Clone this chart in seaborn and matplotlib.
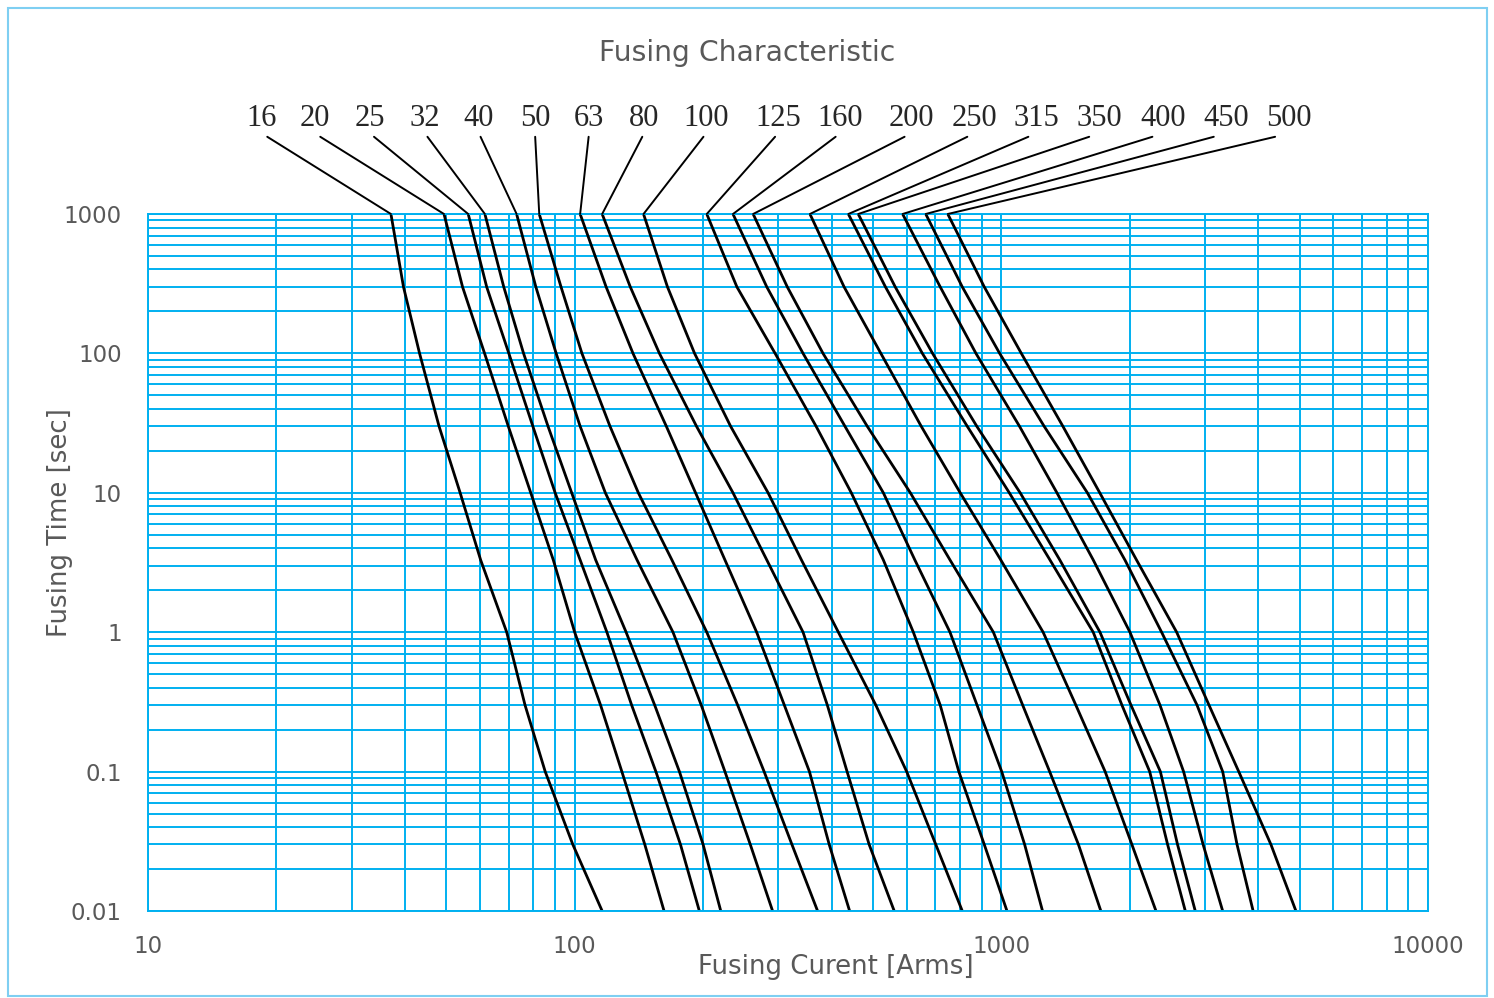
import matplotlib
matplotlib.use("Agg")
import pandas as pd
import matplotlib.pyplot as plt
import seaborn as sns
from matplotlib.patches import Rectangle
from matplotlib.ticker import LogLocator, NullFormatter, FixedLocator

# fusing time points (sec) shared by every curve
times = [1000, 300, 100, 30, 10, 3.3, 1, 0.3, 0.1, 0.03, 0.01]

ratings = ['16', '20', '25', '32', '40', '50', '63', '80', '100', '125',
           '160', '200', '250', '315', '350', '400', '450', '500']

# fusing current [Arms] at each time point
i16 = [37.1, 39.7, 43.3, 48.1, 53.9, 60.2, 69.3, 76.5, 85.3, 99.0, 116]
i20 = [49.4, 54.6, 61.5, 69.9, 78.9, 89.1, 100, 115, 129, 146, 162]
i25 = [56.3, 62.2, 70.1, 79.8, 90.0, 103, 119, 136, 155, 177, 196]
i32 = [61.6, 68.2, 75.9, 86.6, 98.4, 112, 132, 154, 176, 200, 220]
i40 = [73.1, 81.1, 90.5, 103, 118, 140, 170, 198, 225, 258, 291]
i50 = [82.6, 92.9, 104, 121, 141, 169, 204, 241, 278, 323, 371]
i63 = [103, 118.5, 137, 164, 192, 225, 267, 310, 355, 395, 441]
i80 = [116, 135, 158, 193, 235, 282, 343, 391, 435, 490, 561]
i100 = [145, 165, 191, 232, 284, 340, 415, 508, 600, 702, 810]
i125 = [204, 240, 295, 368, 445, 529, 622, 719, 795, 912, 1031]
i160 = [235, 282, 343, 430, 529, 627, 758, 877, 1002, 1134, 1249]
i200 = [262, 315, 382, 485, 612, 758, 958, 1122, 1298, 1516, 1711]
i250 = [356, 428, 522, 649, 801, 997, 1253, 1495, 1751, 2023, 2304]
i315 = [438, 535, 653, 832, 1044, 1300, 1642, 1917, 2227, 2453, 2699]
i350 = [462, 564, 690, 876, 1107, 1371, 1703, 2013, 2359, 2588, 2848]
i400 = [587, 719, 872, 1103, 1350, 1642, 2002, 2354, 2674, 2971, 3302]
i450 = [665, 810, 991, 1260, 1591, 1948, 2375, 2875, 3302, 3568, 3892]
i500 = [749, 912, 1114, 1394, 1701, 2074, 2576, 3067, 3601, 4284, 4903]

currents = [i16, i20, i25, i32, i40, i50, i63, i80, i100, i125,
            i160, i200, i250, i315, i350, i400, i450, i500]

# horizontal position of the rating labels above the plot (figure pixels)
label_px = [262, 315, 370, 425, 479, 535, 589, 644, 706, 778,
            840, 911, 974, 1036, 1099, 1163, 1226, 1289]

W, H = 1494, 998
grid_blue = '#00B0F0'
text_gray = '#595959'

rows = []
for r, cur in zip(ratings, currents):
    for c, t in zip(cur, times):
        rows.append({'rating': r, 'current': c, 'time': t})
df = pd.DataFrame(rows)

sns.set_style('white')
plt.rcParams['font.family'] = ['DejaVu Sans']

fig = plt.figure(figsize=(W / 100, H / 100), dpi=100)
ax = fig.add_axes([148 / W, 87 / H, 1280 / W, 697 / H])

sns.lineplot(data=df, x='current', y='time', hue='rating', palette={r: 'black' for r in ratings},
             sort=False, estimator=None, legend=False, linewidth=2.0, ax=ax)

ax.set_xscale('log')
ax.set_yscale('log')
ax.set_xlim(10, 10000)
ax.set_ylim(0.01, 1000)

ax.xaxis.set_major_locator(FixedLocator([10, 100, 1000, 10000]))
ax.yaxis.set_major_locator(FixedLocator([0.01, 0.1, 1, 10, 100, 1000]))
ax.set_xticklabels(['10', '100', '1000', '10000'])
ax.set_yticklabels(['0.01', '0.1', '1', '10', '100', '1000'])
for axis in (ax.xaxis, ax.yaxis):
    axis.set_minor_locator(LogLocator(base=10, subs=range(2, 10), numticks=50))
    axis.set_minor_formatter(NullFormatter())

ax.set_axisbelow(True)
ax.grid(True, which='both', color=grid_blue, linewidth=1.4)
ax.tick_params(which='both', length=0, labelsize=16.5, labelcolor=text_gray)
ax.tick_params(axis='y', pad=19)
ax.tick_params(axis='x', pad=17)
for s in ax.spines.values():
    s.set_color(grid_blue)
    s.set_linewidth(1.4)
ax.set_xlabel('')
ax.set_ylabel('')

# rating labels with leader lines to the top of each curve
for r, cur, px in zip(ratings, currents, label_px):
    ax.annotate(r, xy=(cur[0], times[0]), xycoords='data',
                xytext=(px / W, 1 - 119 / H), textcoords='figure fraction',
                ha='center', va='center', fontsize=22, family='Liberation Serif',
                arrowprops=dict(arrowstyle='-', color='black', lw=1.4,
                                shrinkA=0, shrinkB=0, relpos=(0.5, 0)),
                annotation_clip=False)

fig.text(0.5, 1 - 53 / H, 'Fusing Characteristic', ha='center', va='center',
         fontsize=20.3, color=text_gray)
fig.text(836 / W, 1 - 967 / H, 'Fusing Curent [Arms]', ha='center', va='center',
         fontsize=18.7, color=text_gray)
fig.text(60 / W, 1 - 523 / H, 'Fusing Time [sec]', ha='center', va='center',
         rotation=90, fontsize=18.7, color=text_gray)

fig.patches.append(Rectangle((8 / W, 2 / H), 1479 / W, 988 / H, transform=fig.transFigure,
                             fill=False, edgecolor='#7FCFF2', linewidth=1.5))

fig.savefig('out.png', dpi=100)
